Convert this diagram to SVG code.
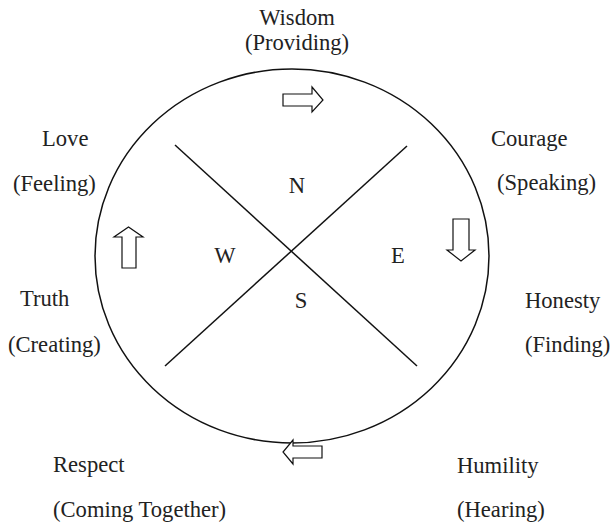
<svg xmlns="http://www.w3.org/2000/svg" width="611" height="522" viewBox="0 0 611 522">
<style>
text{font-family:"Liberation Serif","Times New Roman",serif;font-size:22.6px;fill:#222}
.ln{stroke:#111;stroke-width:1.5;fill:none}
.ar{stroke:#111;stroke-width:1.2;fill:#fff;stroke-linejoin:miter}
.m{text-anchor:middle}
</style>
<rect width="611" height="522" fill="#fff"/>
<g id="wheel">
<ellipse class="ln" cx="292" cy="256" rx="197" ry="187"/>
<line class="ln" x1="175" y1="145" x2="417" y2="366"/>
<line class="ln" x1="165" y1="366" x2="407" y2="146"/>
</g>
<g id="connectors">
<path class="ar" d="M283,94 H312 V87 L323,100 L312,112 V106 H283 Z"/>
<path class="ar" d="M453,219 H469 V250 H475 L461,261 L447,250 H453 Z"/>
<path class="ar" d="M322,446 V458 H293 V464 L283,452 L293,440 V446 Z"/>
<path class="ar" d="M122,268 V237 H114 L128.5,227 L143,237 H136 V268 Z"/>
</g>
<g id="directions">
<text class="m" x="297" y="193">N</text>
<text class="m" x="225" y="263">W</text>
<text class="m" x="398" y="263">E</text>
<text class="m" x="301" y="308">S</text>
</g>
<g id="wisdom"><text class="m" x="297" y="25">Wisdom</text><text class="m" x="297" y="50">(Providing)</text></g>
<g id="love"><text x="42" y="146">Love</text><text x="13" y="191">(Feeling)</text></g>
<g id="courage"><text x="491" y="146">Courage</text><text x="497" y="190">(Speaking)</text></g>
<g id="truth"><text x="20" y="306">Truth</text><text x="8" y="352">(Creating)</text></g>
<g id="honesty"><text x="525" y="308">Honesty</text><text x="525" y="352">(Finding)</text></g>
<g id="respect"><text x="53" y="472">Respect</text><text x="53" y="517">(Coming Together)</text></g>
<g id="humility"><text x="457" y="473">Humility</text><text x="457" y="517">(Hearing)</text></g>
</svg>
